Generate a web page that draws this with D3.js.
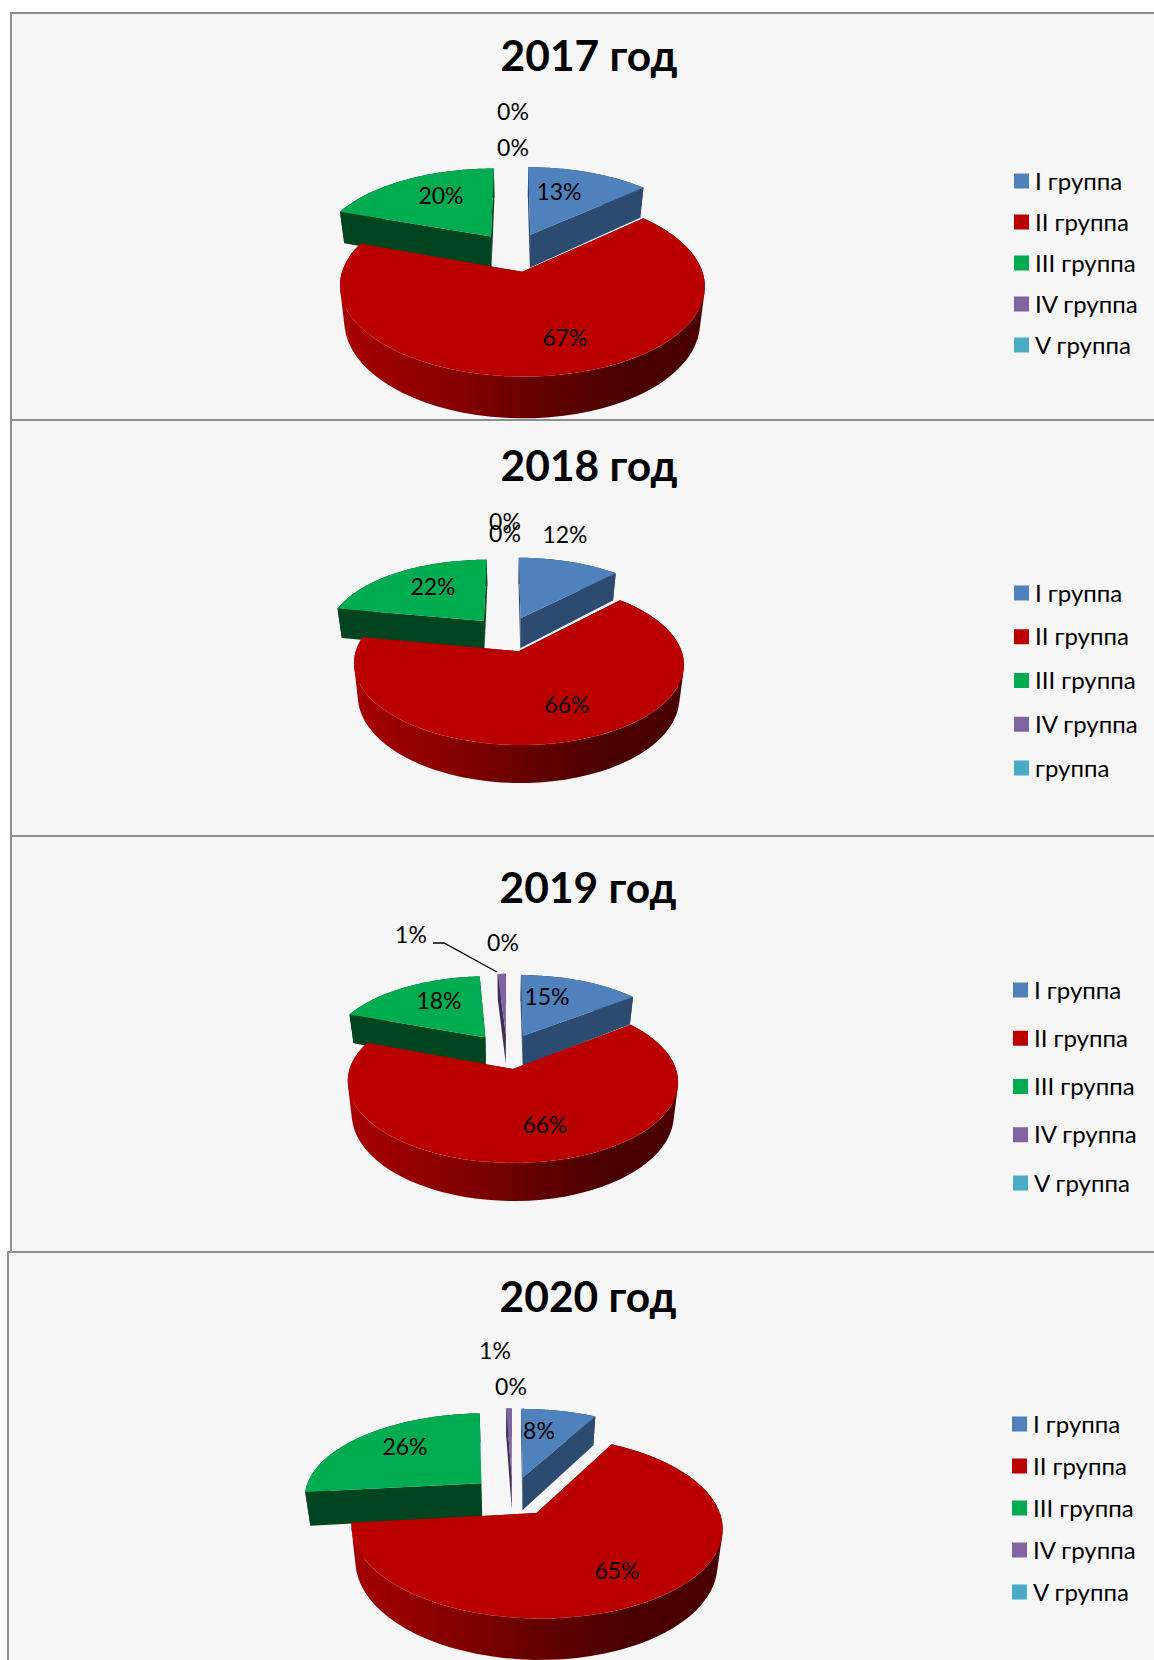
<!DOCTYPE html>
<html>
<head>
<meta charset="utf-8">
<script src="https://cdnjs.cloudflare.com/ajax/libs/d3/7.8.5/d3.min.js"></script>
<style>
    body { margin: 0; background: #fff; }
    svg { display: block; }
    text { font-family: Lato, "Open Sans", "Noto Sans", sans-serif; fill: #000; }
</style>
</head>
<body>
<div id="chart"></div>
<script>
// Chart values (slice angles, the labels show them rounded)
var years = ["2017 год", "2018 год", "2019 год", "2020 год"];
var groups = ["I", "II", "III", "IV", "V"];
var values2017 = [13.4, 67, 19.6, 0, 0];
var values2018 = [12.3, 65.6, 22.1, 0, 0];
var values2019 = [14.6, 66, 18.4, 1, 0];
var values2020 = [8, 65, 26, 0.6, 0];
var legendLabels = ["I группа", "II группа", "III группа", "IV группа", "V группа"];
var legendLabels2018 = ["I группа", "II группа", "III группа", "IV группа", "группа"];

// Colours per group
var topColors = ["#4f81bd", "#bb0000", "#00ac50", "#8064a2", "#4bacc6"];
var rimColors = ["#2d4a70", "#8a0000", "#00451f", "#3f2f56", "#25606f"];

// Layout of the four panels (page pixels), labels follow the order of the groups
var panels = [
    { values: values2017, legend: legendLabels, frameX: 11, frameY: 13, bottom: 420,
      cx: 514, cy: 252, rx: 174, ry: 82.5, depth: 34, titleX: 589, titleY: 71,
      legendX: 1014, legendTop: 181, legendBottom: 345,
      labels: [[559, 192], [565, 338], [441, 196], [513, 148], [513, 112]] },
    { values: values2018, legend: legendLabels2018, frameX: 11, frameY: 420, bottom: 836,
      cx: 507, cy: 634, rx: 157.5, ry: 74, depth: 31, titleX: 589, titleY: 481,
      legendX: 1014, legendTop: 593, legendBottom: 768,
      labels: [[565, 535], [567, 705], [433, 587], [505, 534], [505, 522]] },
    { values: values2019, legend: legendLabels, frameX: 11, frameY: 836, bottom: 1252,
      cx: 507, cy: 1051, rx: 157.5, ry: 74, depth: 31, titleX: 588, titleY: 903,
      legendX: 1013, legendTop: 990, legendBottom: 1183,
      labels: [[547, 997], [545, 1125], [439, 1001], [411, 935], [503, 943]],
      leader: [[433, 943], [444, 943], [497, 972]] },
    { values: values2020, legend: legendLabels, frameX: 8, frameY: 1252, bottom: 1660,
      cx: 512.5, cy: 1496, rx: 178, ry: 84, depth: 34, titleX: 588, titleY: 1312,
      legendX: 1012, legendTop: 1424, legendBottom: 1592,
      labels: [[539, 1431], [617, 1571], [405, 1447], [495, 1351], [511, 1387]] }
];

// Define SVG area dimensions
var svgWidth = 1154;
var svgHeight = 1660;

// Explosion of the slices and strength of the perspective
var explode = 0.236;
var perspective = 0.15;
var bottomShrink = 0.975;
var swatchSize = 15;

var svg = d3.select("#chart")
    .append("svg")
    .attr("width", svgWidth)
    .attr("height", svgHeight);

var defs = svg.append("defs");

var topColor = d3.scaleOrdinal().domain(groups).range(topColors);
var rimColor = d3.scaleOrdinal().domain(groups).range(rimColors);

var pie = d3.pie().sort(null).value(function (d) { return d; });
var line = d3.line();
var percent = d3.format(".0f");

// Panel backgrounds
panels.forEach(function (p) {
    svg.append("rect")
        .attr("x", p.frameX)
        .attr("y", p.frameY)
        .attr("width", svgWidth - p.frameX)
        .attr("height", p.bottom - p.frameY)
        .attr("fill", "#f6f6f6");
});

panels.forEach(function (p, i) {
    var panel = svg.append("g");

    // Disc point (x to the right, y to the viewer) to page pixels
    function project(x, y) {
        var s = 1 / (1 - perspective * y);
        return { x: p.cx + p.rx * x * s, y: p.cy + p.ry * y * s, s: s };
    }

    // Same point on the lower face of the pie
    function lower(pt) {
        return [p.cx + (pt.x - p.cx) * bottomShrink, pt.y + p.depth * pt.s];
    }

    var gradId = "rim-" + i;
    var grad = defs.append("linearGradient")
        .attr("id", gradId)
        .attr("gradientUnits", "userSpaceOnUse")
        .attr("x1", p.cx - p.rx)
        .attr("x2", p.cx + p.rx * 1.1)
        .attr("y1", 0)
        .attr("y2", 0);
    [[0, "#a80000"], [0.3, "#880000"], [0.55, "#640000"], [0.78, "#4a0000"], [1, "#4a0000"]].forEach(function (s) {
        grad.append("stop").attr("offset", s[0]).attr("stop-color", s[1]);
    });

    var slices = pie(p.values)
        .map(function (d, k) {
            d.group = groups[k];
            d.mid = (d.startAngle + d.endAngle) / 2;
            d.ox = Math.sin(d.mid) * explode;
            d.oy = -Math.cos(d.mid) * explode;
            return d;
        })
        .filter(function (d) { return d.value > 0; })
        .sort(function (a, b) { return d3.ascending(a.oy, b.oy); });

    slices.forEach(function (d) {
        var apex = project(d.ox, d.oy);
        var arc = d3.range(0, 1.0001, 1 / 60).map(function (t) {
            var a = d.startAngle + (d.endAngle - d.startAngle) * t;
            return project(d.ox + Math.sin(a), d.oy - Math.cos(a));
        });

        var rimFill = d.group === "II" ? "url(#" + gradId + ")" : rimColor(d.group);

        // Quad below one edge, always wound the same way so a path of many stays solid
        function quad(a, b) {
            var pts = [[a.x, a.y], [b.x, b.y], lower(b), lower(a)];
            if (d3.polygonArea(pts) < 0) pts.reverse();
            return line(pts) + "Z";
        }

        var first = arc[0];
        var last = arc[arc.length - 1];

        // Outer band as one path, so the gradient runs without seams
        var walls = [
            { y: (apex.y + first.y) / 2, d: quad(apex, first) },
            { y: (apex.y + last.y) / 2, d: quad(apex, last) },
            {
                y: d3.mean(arc, function (pt) { return pt.y; }),
                d: d3.pairs(arc).map(function (e) { return quad(e[0], e[1]); }).join("")
            }
        ].sort(function (a, b) { return d3.ascending(a.y, b.y); });

        panel.selectAll(null)
            .data(walls)
            .enter()
            .append("path")
            .attr("d", function (w) { return w.d; })
            .attr("fill", rimFill);

        panel.append("path")
            .attr("d", line([apex].concat(arc).map(function (pt) { return [pt.x, pt.y]; })) + "Z")
            .attr("fill", topColor(d.group));
    });

    // Leader line of a moved label
    if (p.leader) {
        panel.append("path")
            .attr("d", line(p.leader))
            .attr("fill", "none")
            .attr("stroke", "#000")
            .attr("stroke-width", 1.3);
    }

    // Value labels
    panel.selectAll(".value")
        .data(p.values)
        .enter()
        .append("text")
        .attr("class", "value")
        .attr("x", function (d, k) { return p.labels[k][0]; })
        .attr("y", function (d, k) { return p.labels[k][1]; })
        .attr("dy", "0.36em")
        .attr("text-anchor", "middle")
        .style("font-size", "23px")
        .text(function (d) { return percent(d) + "%"; });

    // Title
    panel.append("text")
        .attr("x", p.titleX)
        .attr("y", p.titleY)
        .attr("text-anchor", "middle")
        .style("font-size", "42.5px")
        .style("font-weight", "700")
        .text(years[i]);

    // Legend
    var legendY = d3.scalePoint().domain(groups).range([p.legendTop, p.legendBottom]);

    panel.selectAll(".swatch")
        .data(groups)
        .enter()
        .append("rect")
        .attr("class", "swatch")
        .attr("x", p.legendX)
        .attr("y", function (d) { return legendY(d) - swatchSize / 2; })
        .attr("width", swatchSize)
        .attr("height", swatchSize)
        .attr("fill", function (d) { return topColor(d); });

    panel.selectAll(".legend")
        .data(groups)
        .enter()
        .append("text")
        .attr("class", "legend")
        .attr("x", p.legendX + swatchSize + 6)
        .attr("y", function (d) { return legendY(d); })
        .attr("dy", "0.36em")
        .style("font-size", "24px")
        .text(function (d, k) { return p.legend[k]; });
});

// Borders go over the backgrounds
panels.forEach(function (p) {
    svg.append("path")
        .attr("d", line([[p.frameX, p.bottom], [p.frameX, p.frameY], [svgWidth, p.frameY]]))
        .attr("fill", "none")
        .attr("stroke", "#8f8f8f")
        .attr("stroke-width", 2);
});
</script>
</body>
</html>
